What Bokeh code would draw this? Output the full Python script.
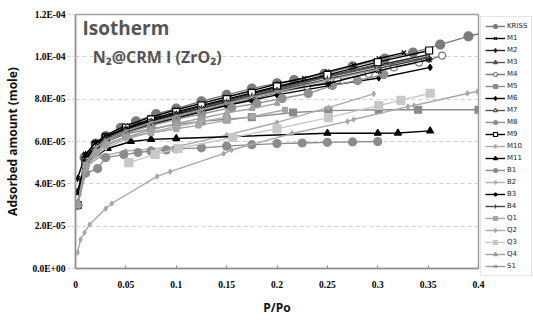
from bokeh.plotting import figure
from bokeh.models import (Legend, LegendItem, Label, FixedTicker, CustomJSTickFormatter,
                          ColumnDataSource)
from bokeh.embed import file_html
from bokeh.resources import INLINE

# ---------------- data (adsorbed amount in units of 1e-5 mole) ----------------
x_ticks = [0, 0.05, 0.1, 0.15, 0.2, 0.25, 0.3, 0.35, 0.4]
y_ticks = [0, 2e-5, 4e-5, 6e-5, 8e-5, 1.0e-4, 1.2e-4]

names = ["KRISS", "M1", "M2", "M3", "M4", "M5", "M6", "M7", "M8", "M9", "M10", "M11",
         "B1", "B2", "B3", "B4", "Q1", "Q2", "Q3", "Q4", "S1"]

kriss_x = [0.002, 0.009, 0.02, 0.03, 0.045, 0.06, 0.08, 0.1, 0.125, 0.15, 0.175, 0.2, 0.217, 0.247, 0.275, 0.307, 0.335, 0.362, 0.39, 0.415]
kriss_y = [3.0, 5.25, 5.9, 6.25, 6.65, 6.95, 7.3, 7.55, 7.9, 8.2, 8.5, 8.75, 8.9, 9.2, 9.55, 9.92, 10.2, 10.58, 10.97, 11.25]

m1_x = [0.002, 0.01, 0.02, 0.03, 0.05, 0.075, 0.1, 0.125, 0.15, 0.175, 0.202, 0.227, 0.25, 0.276, 0.301, 0.326]
m1_y = [3.55, 5.2, 5.9, 6.3, 6.75, 7.15, 7.5, 7.8, 8.1, 8.4, 8.74, 9.0, 9.3, 9.6, 9.92, 10.2]

m2_x = [0.002, 0.01, 0.02, 0.03, 0.05, 0.075, 0.1, 0.125, 0.15, 0.175, 0.2, 0.25, 0.3, 0.35]
m2_y = [3.0, 5.0, 5.8, 6.2, 6.6, 7.0, 7.35, 7.65, 7.95, 8.25, 8.55, 9.1, 9.6, 10.1]

m3_x = [0.002, 0.01, 0.02, 0.03, 0.05, 0.075, 0.1, 0.125, 0.15, 0.175, 0.2, 0.25, 0.3]
m3_y = [3.0, 4.8, 5.6, 6.0, 6.5, 6.9, 7.25, 7.55, 7.85, 8.15, 8.45, 9.05, 9.65]

m4_x = [0.002, 0.01, 0.02, 0.03, 0.05, 0.075, 0.1, 0.125, 0.15, 0.175, 0.2, 0.23, 0.26, 0.291, 0.316, 0.341, 0.364]
m4_y = [3.0, 4.9, 5.6, 6.0, 6.45, 6.85, 7.15, 7.45, 7.75, 8.0, 8.3, 8.6, 8.9, 9.2, 9.5, 9.73, 10.06]

m5_x = [0.002, 0.01, 0.02, 0.03, 0.05, 0.075, 0.1, 0.125, 0.15, 0.175, 0.216, 0.251, 0.301, 0.34, 0.4]
m5_y = [3.0, 5.0, 5.6, 6.0, 6.35, 6.6, 6.8, 6.95, 7.05, 7.15, 7.37, 7.46, 7.5, 7.5, 7.5]

m6_x = [0.002, 0.01, 0.02, 0.03, 0.05, 0.075, 0.1, 0.125, 0.15, 0.175, 0.2, 0.252, 0.301, 0.352]
m6_y = [3.0, 4.9, 5.6, 6.0, 6.4, 6.8, 7.1, 7.4, 7.7, 7.95, 8.2, 8.64, 9.0, 9.5]

m7_x = [0.002, 0.01, 0.02, 0.03, 0.05, 0.075, 0.1, 0.125, 0.15, 0.175, 0.2, 0.25, 0.3, 0.35]
m7_y = [3.0, 5.0, 5.75, 6.1, 6.55, 6.95, 7.3, 7.6, 7.9, 8.2, 8.5, 9.05, 9.55, 10.0]

m8_x = [0.002, 0.01, 0.02, 0.03, 0.05, 0.075, 0.1, 0.125, 0.155, 0.18, 0.205, 0.231, 0.255, 0.28, 0.306]
m8_y = [3.0, 4.9, 5.6, 6.0, 6.4, 6.75, 7.05, 7.3, 7.6, 7.8, 8.03, 8.27, 8.64, 8.88, 9.16]

m9_x = [0.002, 0.01, 0.02, 0.03, 0.05, 0.075, 0.1, 0.125, 0.15, 0.175, 0.2, 0.25, 0.3, 0.351]
m9_y = [3.0, 5.1, 5.85, 6.2, 6.65, 7.05, 7.4, 7.7, 8.0, 8.3, 8.6, 9.15, 9.75, 10.3]

m10_x = [0.002, 0.01, 0.025, 0.05, 0.075, 0.1, 0.15, 0.2, 0.251, 0.296]
m10_y = [3.0, 4.8, 5.3, 5.55, 5.65, 5.75, 6.3, 6.9, 7.6, 8.25]

m11_x = [0.002, 0.01, 0.032, 0.055, 0.075, 0.1, 0.25, 0.3, 0.32, 0.352]
m11_y = [3.6, 5.0, 5.67, 6.0, 6.1, 6.14, 6.39, 6.39, 6.4, 6.5]

b1_x = [0.002, 0.01, 0.022, 0.03, 0.048, 0.062, 0.075, 0.09, 0.1, 0.125, 0.15, 0.175, 0.2, 0.225, 0.25, 0.275, 0.3]
b1_y = [3.0, 4.5, 4.72, 5.24, 5.38, 5.48, 5.55, 5.6, 5.65, 5.7, 5.78, 5.85, 5.9, 5.93, 5.96, 5.98, 6.0]

b2_x = [0.002, 0.01, 0.02, 0.03, 0.05, 0.075, 0.1, 0.125, 0.15]
b2_y = [3.0, 4.7, 5.3, 5.7, 6.1, 6.45, 6.7, 6.95, 7.15]

b3_x = [0.002, 0.01, 0.02, 0.03, 0.05, 0.075, 0.1, 0.125, 0.15, 0.175, 0.2, 0.251, 0.301, 0.351]
b3_y = [4.25, 5.4, 5.95, 6.25, 6.6, 6.95, 7.3, 7.55, 7.85, 8.1, 8.4, 8.74, 9.35, 9.87]

b4_x = [0.002, 0.01, 0.02, 0.03, 0.05, 0.075, 0.1, 0.125, 0.15, 0.175, 0.2, 0.25, 0.3, 0.35]
b4_y = [3.0, 5.0, 5.7, 6.1, 6.5, 6.9, 7.25, 7.55, 7.85, 8.15, 8.4, 8.95, 9.45, 9.95]

q1_x = [0.002, 0.01, 0.02, 0.03, 0.05, 0.075, 0.1, 0.122, 0.15, 0.176, 0.208]
q1_y = [3.0, 4.9, 5.5, 5.9, 6.2, 6.4, 6.6, 6.76, 7.0, 7.18, 7.5]

q2_x = [0.002, 0.005, 0.009, 0.014, 0.03, 0.036, 0.081, 0.094, 0.147, 0.155, 0.215, 0.27, 0.276, 0.33, 0.336, 0.389, 0.399]
q2_y = [0.75, 1.37, 1.7, 2.08, 2.83, 3.07, 4.35, 4.58, 5.43, 5.6, 6.38, 6.95, 7.04, 7.65, 7.7, 8.27, 8.36]

q3_x = [0.053, 0.079, 0.102, 0.156, 0.2, 0.251, 0.301, 0.323, 0.352]
q3_y = [5.0, 5.39, 5.67, 6.19, 6.6, 7.13, 7.7, 7.94, 8.28]

q4_x = [0.002, 0.01, 0.02, 0.03, 0.05, 0.075, 0.1, 0.125, 0.15, 0.175, 0.2]
q4_y = [3.0, 4.7, 5.4, 5.8, 6.2, 6.55, 6.85, 7.1, 7.35, 7.55, 7.8]

s1_x = [0.002, 0.01, 0.02, 0.03, 0.05, 0.075, 0.1, 0.125, 0.15, 0.175, 0.2, 0.25, 0.3]
s1_y = [3.0, 4.95, 5.7, 6.05, 6.5, 6.9, 7.2, 7.5, 7.8, 8.1, 8.35, 8.9, 9.4]

series_x = [kriss_x, m1_x, m2_x, m3_x, m4_x, m5_x, m6_x, m7_x, m8_x, m9_x, m10_x, m11_x,
            b1_x, b2_x, b3_x, b4_x, q1_x, q2_x, q3_x, q4_x, s1_x]
series_y = [kriss_y, m1_y, m2_y, m3_y, m4_y, m5_y, m6_y, m7_y, m8_y, m9_y, m10_y, m11_y,
            b1_y, b2_y, b3_y, b4_y, q1_y, q2_y, q3_y, q4_y, s1_y]
UNIT = 1e-5

# ---------------- styles ----------------
# (line color, marker, marker size, fill color or None for hollow)
styles = {
    "KRISS": ("#7a7a7a", "circle", 9, "#7a7a7a"),
    "M1": ("#000000", "x", 6, "#000000"),
    "M2": ("#222222", "diamond", 5, "#222222"),
    "M3": ("#555555", "triangle", 6, "#555555"),
    "M4": ("#777777", "circle", 7, None),
    "M5": ("#8a8a8a", "square", 7, "#8a8a8a"),
    "M6": ("#000000", "diamond", 6, "#000000"),
    "M7": ("#555555", "triangle", 6, None),
    "M8": ("#909090", "circle", 8, "#909090"),
    "M9": ("#000000", "square", 7, None),
    "M10": ("#aaaaaa", "diamond", 5, "#aaaaaa"),
    "M11": ("#000000", "triangle", 7, "#000000"),
    "B1": ("#8c8c8c", "circle", 8, "#8c8c8c"),
    "B2": ("#b0b0b0", "diamond", 5, "#b0b0b0"),
    "B3": ("#000000", "asterisk", 7, "#000000"),
    "B4": ("#444444", "cross", 7, "#444444"),
    "Q1": ("#a6a6a6", "square", 5, "#a6a6a6"),
    "Q2": ("#a8a8a8", "diamond", 5, "#a8a8a8"),
    "Q3": ("#c8c8c8", "square", 8, "#c8c8c8"),
    "Q4": ("#a0a0a0", "triangle", 6, "#a0a0a0"),
    "S1": ("#999999", "x", 5, "#999999"),
}

p = figure(frame_width=403, frame_height=254, output_backend="svg", toolbar_location=None,
           x_range=(0, 0.4), y_range=(0, 1.2e-4),
           min_border_left=75, min_border_top=14, min_border_bottom=52, min_border_right=0,
           background_fill_color="white", border_fill_color="white")
p.outline_line_color = "#a0a0a0"
p.outline_line_width = 1.5

items = []
renderers = {}
for i, nm in enumerate(names):
    col, mk, sz, fill = styles[nm]
    src = ColumnDataSource(dict(x=series_x[i], y=[v * UNIT for v in series_y[i]]))
    ln = p.line("x", "y", source=src, line_color=col, line_width=1.4)
    sc = p.scatter("x", "y", source=src, marker=mk, size=sz, line_color=col,
                   fill_color=fill if fill else "white", line_width=1.2)
    renderers[nm] = [ln, sc]
for nm in names:
    items.append(LegendItem(label=nm, renderers=renderers[nm]))

legend = Legend(items=items, location="top_left")
legend.margin = 2
legend.padding = 4
legend.spacing = 2
legend.glyph_width = 20
legend.glyph_height = 10
legend.label_height = 10
legend.label_standoff = 2
legend.label_text_font = "DejaVu Sans"
legend.label_text_font_size = "7px"
legend.label_text_color = "#222222"
legend.border_line_color = "#cccccc"
legend.border_line_width = 1
legend.background_fill_alpha = 1
p.add_layout(legend, "right")

# axes
p.xaxis.ticker = FixedTicker(ticks=x_ticks)
p.yaxis.ticker = FixedTicker(ticks=y_ticks)
p.xaxis.formatter = CustomJSTickFormatter(code="return String(Math.round(tick*100)/100);")
p.yaxis.formatter = CustomJSTickFormatter(code="""
var s = tick.toExponential(1).toUpperCase();
var parts = s.split("E"); var e = parseInt(parts[1]);
var sign = e < 0 ? "-" : "+"; var a = Math.abs(e);
return parts[0] + "E" + sign + (a < 10 ? "0" : "") + a;
""")
for ax in (p.xaxis[0], p.yaxis[0]):
    ax.major_label_text_font = "Liberation Serif"
    ax.major_label_text_font_style = "bold"
    ax.major_label_text_font_size = "9.5px"
    ax.major_label_text_color = "#000000"
    ax.axis_line_color = "#909090"
    ax.axis_line_width = 1.5
    ax.minor_tick_line_color = None
    ax.axis_label_text_font = "Open Sans"
    ax.axis_label_text_font_style = "bold"
    ax.axis_label_text_color = "#111111"
p.xaxis.major_tick_in = 3
p.xaxis.major_tick_out = 0
p.xaxis.major_tick_line_color = "#909090"
p.xaxis.major_label_standoff = 12
p.xaxis.axis_label = "P/Po"
p.xaxis.axis_label_text_font_size = "12px"
p.xaxis.axis_label_standoff = 8
p.yaxis.major_tick_in = 0
p.yaxis.major_tick_out = 8
p.yaxis.major_tick_line_color = "#cccccc"
p.yaxis.major_tick_line_dash = "3 2"
p.yaxis.major_label_standoff = 2
p.yaxis.axis_label = "Adsorbed amount (mole)"
p.yaxis.axis_label_text_font_size = "12px"
p.yaxis.axis_label_standoff = 8

p.xgrid.grid_line_color = None
p.ygrid.grid_line_color = "#d0d0d0"
p.ygrid.grid_line_dash = "4 3"

p.add_layout(Label(x=0.007, y=1.138e-4, text="Isotherm", text_baseline="middle",
                   text_font="Open Sans", text_font_style="bold", text_font_size="19px",
                   text_color="#555555"))
p.add_layout(Label(x=0.017, y=0.997e-4, text="N\u2082@CRM I (ZrO\u2082)", text_baseline="middle",
                   text_font="Open Sans", text_font_style="bold", text_font_size="16px",
                   text_color="#555555"))

open("out.html", "w").write(file_html(p, INLINE))
